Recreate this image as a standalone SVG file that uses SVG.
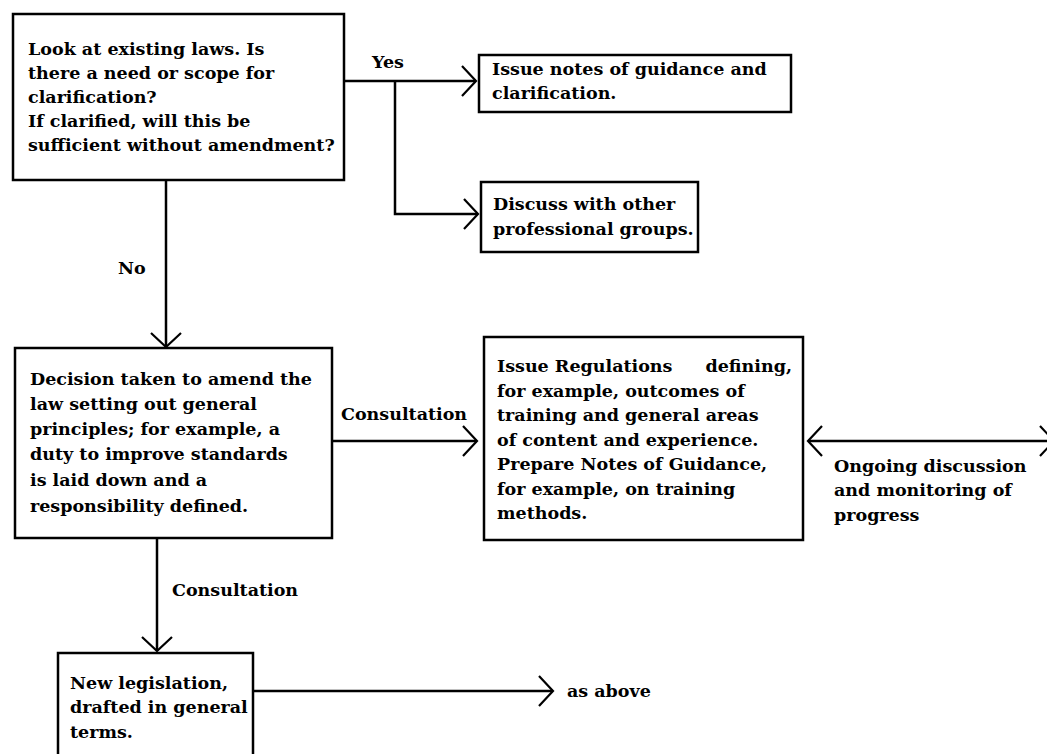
<svg xmlns="http://www.w3.org/2000/svg" width="1047" height="754" viewBox="0 0 1047 754">
<style>
.box{fill:#fff;stroke:#000;stroke-width:2.5}
.t{font-family:"DejaVu Serif","Liberation Serif",serif;font-size:17.5px;font-weight:bold;fill:#000}
.c{fill:none;stroke:#000;stroke-width:2.5}
</style>
<defs>
<marker id="ah" markerUnits="userSpaceOnUse" markerWidth="20" markerHeight="34" refX="15" refY="16" orient="auto-start-reverse">
<path d="M1,1 L15,16 L1,31" fill="none" stroke="#000" stroke-width="2.2"/>
</marker>
</defs>
<rect width="1047" height="754" fill="#fff"/>
<g id="connectors">
<path class="c" d="M344,81 H476" marker-end="url(#ah)"/>
<path class="c" d="M395,81 V214 H478" marker-end="url(#ah)"/>
<path class="c" d="M166,180 V347" marker-end="url(#ah)"/>
<path class="c" d="M332,441 H477" marker-end="url(#ah)"/>
<path class="c" d="M808,441 H1054" marker-start="url(#ah)" marker-end="url(#ah)"/>
<path class="c" d="M157,538 V651" marker-end="url(#ah)"/>
<path class="c" d="M253,691 H553" marker-end="url(#ah)"/>
<text class="t" x="372" y="68">Yes</text>
<text class="t" x="118" y="274">No</text>
<text class="t" x="341" y="420">Consultation</text>
<text class="t" x="172" y="596">Consultation</text>
<text class="t" x="567" y="697">as above</text>
<text class="t"><tspan x="834" y="472">Ongoing discussion</tspan><tspan x="834" y="496">and monitoring of</tspan><tspan x="834" y="521">progress</tspan></text>
</g>
<g id="n1">
<rect class="box" x="13" y="14" width="331" height="166"/>
<text class="t"><tspan x="28" y="55">Look at existing laws. Is</tspan><tspan x="28" y="79">there a need or scope for</tspan><tspan x="28" y="103">clarification?</tspan><tspan x="28" y="127">If clarified, will this be</tspan><tspan x="28" y="151">sufficient without amendment?</tspan></text>
</g>
<g id="n2">
<rect class="box" x="479" y="55" width="312" height="57"/>
<text class="t"><tspan x="492" y="75">Issue notes of guidance and</tspan><tspan x="492" y="99">clarification.</tspan></text>
</g>
<g id="n3">
<rect class="box" x="481" y="182" width="217" height="70"/>
<text class="t"><tspan x="493" y="210">Discuss with other</tspan><tspan x="493" y="235">professional groups.</tspan></text>
</g>
<g id="n4">
<rect class="box" x="15" y="348" width="317" height="190"/>
<text class="t"><tspan x="30" y="385">Decision taken to amend the</tspan><tspan x="30" y="410">law setting out general</tspan><tspan x="30" y="435">principles; for example, a</tspan><tspan x="30" y="460">duty to improve standards</tspan><tspan x="30" y="486">is laid down and a</tspan><tspan x="30" y="512">responsibility defined.</tspan></text>
</g>
<g id="n5">
<rect class="box" x="484" y="337" width="319" height="203"/>
<text class="t"><tspan x="497" y="372">Issue Regulations</tspan><tspan x="792" y="372" text-anchor="end">defining,</tspan><tspan x="497" y="397">for example, outcomes of</tspan><tspan x="497" y="421">training and general areas</tspan><tspan x="497" y="446">of content and experience.</tspan><tspan x="497" y="470">Prepare Notes of Guidance,</tspan><tspan x="497" y="495">for example, on training</tspan><tspan x="497" y="519">methods.</tspan></text>
</g>
<g id="n6">
<rect class="box" x="58" y="653" width="195" height="120"/>
<text class="t"><tspan x="70" y="689">New legislation,</tspan><tspan x="70" y="713">drafted in general</tspan><tspan x="70" y="738">terms.</tspan></text>
</g>
</svg>
